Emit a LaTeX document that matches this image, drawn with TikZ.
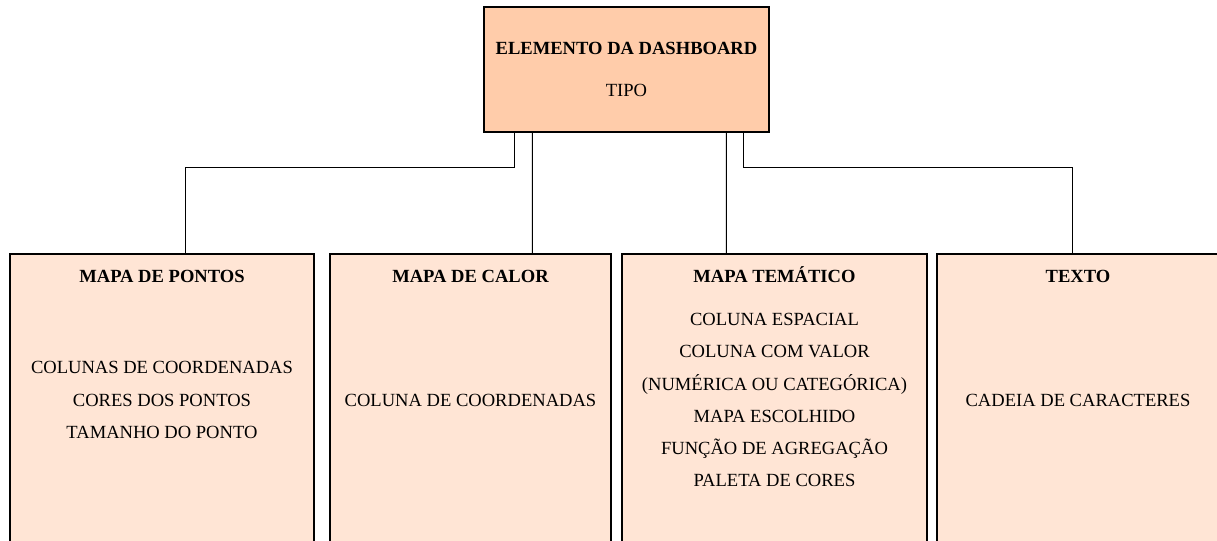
\documentclass[tikz,border=0pt]{standalone}
\usepackage{fontspec}
\setmainfont{Liberation Serif}
\usetikzlibrary{calc}

\definecolor{topo}{RGB}{255,204,170}
\definecolor{caixa}{RGB}{255,229,213}

\begin{document}
\begin{tikzpicture}[x=0.025cm, y=-0.025cm, line width=0.8pt,
    font=\fontsize{13.2pt}{22.8pt}\selectfont,
    elemento/.style={draw, fill=topo, minimum width=7.125cm, minimum height=3.125cm,
        align=center, font=\fontsize{13.2pt}{29.9pt}\selectfont},
    tipo/.style={draw, fill=caixa, minimum height=7.3cm, align=center},
    titulo/.style={anchor=base, font=\fontsize{13.2pt}{22.8pt}\selectfont\bfseries}]

\useasboundingbox (0,0) rectangle (1217,540);
\clip (0,0) rectangle (1217,540);

% caixa de cima
\node[elemento] (elem) at (626.5,69.5) {\textbf{ELEMENTO DA DASHBOARD}\\TIPO};

% caixas de baixo
\node[tipo, minimum width=7.6cm] (pontos) at (162,400)
    {COLUNAS DE COORDENADAS\\CORES DOS PONTOS\\TAMANHO DO PONTO};
\node[tipo, minimum width=7.025cm] (calor) at (470.5,400) {COLUNA DE COORDENADAS};
\node[tipo, minimum width=7.625cm] (tematico) at (774.5,400)
    {COLUNA ESPACIAL\\COLUNA COM VALOR\\(NUMÉRICA OU CATEGÓRICA)\\MAPA ESCOLHIDO\\FUNÇÃO DE AGREGAÇÃO\\PALETA DE CORES};
\node[tipo, minimum width=7.05cm] (texto) at (1078,400) {CADEIA DE CARACTERES};

\node[titulo] (pontos-t) at ($(pontos.north)+(0,29)$) {MAPA DE PONTOS};
\node[titulo] (calor-t) at ($(calor.north)+(0,29)$) {MAPA DE CALOR};
\node[titulo] (tematico-t) at ($(tematico.north)+(0,29)$) {MAPA TEMÁTICO};
\node[titulo] (texto-t) at ($(texto.north)+(0,29)$) {TEXTO};

% ligacoes
\draw ($(elem.south west)+(31,0)$) -- ++(0,35) -| ($(pontos.north west)+(176,0)$);
\draw ($(elem.south west)+(49,0)$) -- ($(calor.north west)+(203,0)$);
\draw ($(elem.south west)+(243,0)$) -- ($(tematico.north west)+(105,0)$);
\draw ($(elem.south west)+(260,0)$) -- ++(0,35) -| ($(texto.north west)+(136,0)$);

\end{tikzpicture}
\end{document}
